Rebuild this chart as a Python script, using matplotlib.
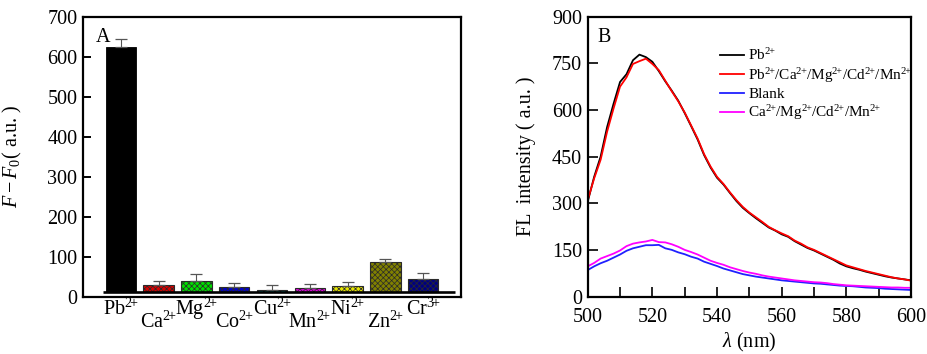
import matplotlib
matplotlib.use("Agg")
import matplotlib.pyplot as plt
import matplotlib.transforms as mtransforms
import numpy as np

plt.rcParams['font.family'] = ['Liberation Serif', 'DejaVu Serif']
plt.rcParams['mathtext.fontset'] = 'custom'
plt.rcParams['mathtext.rm'] = 'Liberation Serif'
plt.rcParams['mathtext.it'] = 'Liberation Serif:italic'
plt.rcParams['mathtext.bf'] = 'Liberation Serif:bold'
plt.rcParams['hatch.linewidth'] = 0.5

# ---------------- Panel A data ----------------
ions = [r'Pb$^{2\!{+}}$', r'Ca$^{2\!{+}}$', r'Mg$^{2\!{+}}$', r'Co$^{2\!{+}}$', r'Cu$^{2\!{+}}$',
        r'Mn$^{2\!{+}}$', r'Ni$^{2\!{+}}$', r'Zn$^{2\!{+}}$', r'Cr$^{3\!{+}}$']
response = [623, 29, 39, 23, 15.5, 20.5, 25.5, 87, 44]
errors = [20, 10, 17, 12, 14, 10, 10, 8, 14]
bar_colors = ['#000000', '#d80000', '#00dd00', '#0000cc', '#00bcbc',
              '#e000e0', '#e6e600', '#808000', '#000080']
baseline = 10.5
a_yticks = [0, 100, 200, 300, 400, 500, 600, 700]

# ---------------- Panel B data ----------------
wavelength = [500, 502, 504, 506, 508, 510, 512, 514, 516, 518, 520, 522, 524, 526,
              528, 530, 532, 534, 536, 538, 540, 542, 544, 546, 548, 550, 552, 554,
              556, 558, 560, 562, 564, 566, 568, 570, 572, 574, 576, 578, 580, 582,
              584, 586, 588, 590, 592, 594, 596, 598, 600]
fl_pb = [305, 385, 450, 545, 620, 690, 715, 760, 778, 770, 755, 725, 692, 662,
         630, 590, 548, 505, 455, 415, 382, 360, 333, 307, 285, 268, 252, 237,
         222, 212, 200, 192, 178, 167, 156, 148, 138, 128, 118, 106, 97, 91,
         86, 80, 75, 70, 65, 61, 58, 55, 52]
fl_mix = [310, 380, 440, 530, 605, 675, 705, 748, 757, 765, 748, 728, 694, 660,
          628, 592, 550, 508, 458, 418, 385, 362, 335, 310, 288, 270, 255, 240,
          224, 213, 203, 194, 180, 170, 158, 150, 140, 130, 120, 110, 100, 94,
          88, 82, 77, 72, 67, 62, 58, 55, 51]
fl_blank = [85, 97, 107, 115, 125, 135, 147, 155, 160, 165, 165, 166, 155, 150,
            142, 136, 128, 122, 112, 105, 98, 90, 84, 78, 72, 68, 64, 61,
            58, 55, 52, 50, 48, 46, 44, 42, 41, 39, 37, 35, 34, 33,
            31, 29, 28, 27, 25, 24, 23, 22, 21]
fl_metals = [97, 108, 122, 130, 138, 148, 162, 170, 174, 177, 182, 175, 174, 168,
             160, 150, 143, 135, 125, 115, 108, 102, 94, 88, 82, 77, 73, 68,
             64, 61, 58, 55, 52, 50, 48, 46, 45, 43, 40, 38, 36, 35,
             34, 33, 32, 31, 30, 29, 29, 28, 28]
series_labels = [r'Pb$^{2\!{+}}$',
                 r'Pb$^{2\!{+}}$/Ca$^{2\!{+}}$/Mg$^{2\!{+}}$/Cd$^{2\!{+}}$/Mn$^{2\!{+}}$',
                 'Blank', r'Ca$^{2\!{+}}$/Mg$^{2\!{+}}$/Cd$^{2\!{+}}$/Mn$^{2\!{+}}$']
series_colors = ['#000000', '#ff0000', '#2020ff', '#ff00ff']
b_yticks = [0, 150, 300, 450, 600, 750, 900]
b_xticks = [500, 520, 540, 560, 580, 600]

W, H = 927, 354
fig = plt.figure(figsize=(W / 100, H / 100), dpi=100)

def frac(x0, y0, x1, y1):
    return [x0 / W, 1 - y1 / H, (x1 - x0) / W, (y1 - y0) / H]

axA = fig.add_axes(frac(83, 16.7, 461, 296.5))
axB = fig.add_axes(frac(587.7, 16.7, 911, 296.5))

tick_fs = 14.5
for ax in (axA, axB):
    for s in ax.spines.values():
        s.set_linewidth(1.6)
    ax.tick_params(direction='in', length=5.5, width=1.4, labelsize=tick_fs, pad=4)

# ---------- Panel A ----------
x = np.arange(len(ions))
heights = [v - baseline for v in response]
for i in range(len(ions)):
    if i == 0:
        axA.bar(x[i], heights[i], 0.8, bottom=baseline, color=bar_colors[i],
                edgecolor='black', linewidth=0.6, zorder=2)
    else:
        axA.bar(x[i], heights[i], 0.8, bottom=baseline, color=bar_colors[i],
                edgecolor='#2a2a2a', linewidth=0.8, hatch='xxxxxx', zorder=2)
axA.errorbar(x, response, yerr=[np.zeros(len(errors)), errors], fmt='none',
             ecolor='#555555', elinewidth=0.8, capsize=4, capthick=0.9, zorder=3)
axA.plot([-0.47, 8.84], [baseline, baseline], color='black', lw=1.9, zorder=4,
         solid_capstyle='butt')
axA.set_xlim(-1, 9)
axA.set_ylim(0, 700)
axA.set_yticks(a_yticks)
axA.set_xticks([])
trans = mtransforms.blended_transform_factory(axA.transData, axA.transAxes)
for i, lab in enumerate(ions):
    yy = -0.066 if i % 2 == 0 else -0.1125
    axA.text(x[i], yy, lab, transform=trans, ha='center', va='baseline',
             fontsize=tick_fs)
axA.set_ylabel(r'$F-F_0$( a.u. )', fontsize=tick_fs)
axA.yaxis.set_label_coords(-0.155, 0.5)
axA.text(0.033, 0.925, 'A', transform=axA.transAxes, fontsize=14.5, va='center')

# ---------- Panel B ----------
for yv, lab, c in zip([fl_pb, fl_mix, fl_blank, fl_metals], series_labels, series_colors):
    axB.plot(wavelength, yv, color=c, lw=1.3, label=lab)
axB.set_xlim(500, 600)
axB.set_ylim(0, 900)
axB.set_xticks(b_xticks)
axB.set_xticks(np.arange(510, 600, 20), minor=True)
axB.set_yticks(b_yticks)
axB.tick_params(axis='x', which='both', direction='in', length=7, width=1.2, pad=8)
axB.tick_params(axis='y', length=7, width=1.2)
axB.set_ylabel('FL  intensity ( a.u. )', fontsize=tick_fs)
axB.yaxis.set_label_coords(-0.16, 0.5)
axB.set_xlabel(r'$\lambda$ (nm)', fontsize=tick_fs, labelpad=3)
axB.text(0.03, 0.925, 'B', transform=axB.transAxes, fontsize=14.5, va='center')
axB.legend(loc='upper left', bbox_to_anchor=(0.409, 0.89), frameon=False,
           fontsize=11, handlelength=1.6, handletextpad=0.25,
           labelspacing=0.16, borderpad=0, borderaxespad=0)

fig.savefig('out.png', dpi=100)
